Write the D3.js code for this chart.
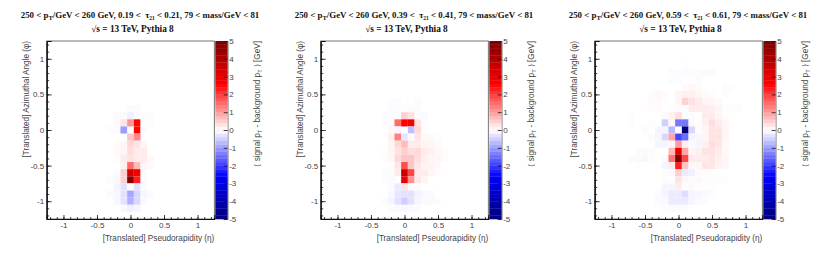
<!DOCTYPE html>
<html>
<head>
<meta charset="utf-8">
<style>
  html, body { margin: 0; padding: 0; background: #fff; }
  svg { display: block; }
  .tick text { font-family: "Liberation Sans", sans-serif; font-size: 8px; fill: #444; }
  .axis-title { font-family: "Liberation Sans", sans-serif; font-size: 8.2px; fill: #444; }
  .plot-title { font-family: "Liberation Serif", serif; font-size: 8.9px; font-weight: bold; fill: #111; }
</style>
<script src="https://cdn.jsdelivr.net/npm/d3@7"></script>
</head>
<body>
<div id="chart"></div>
<script>
// bin centres of the part of the grid which has any content
var etaBins = [-0.7, -0.6, -0.5, -0.4, -0.3, -0.2, -0.1, 0, 0.1, 0.2, 0.3, 0.4, 0.5, 0.6, 0.7, 0.8, 0.9];
var phiBins = [0.9, 0.8, 0.7, 0.6, 0.5, 0.4, 0.3, 0.2, 0.1, 0, -0.1, -0.2, -0.3, -0.4, -0.5, -0.6, -0.7, -0.8, -0.9, -1.0, -1.1, -1.2];

var tauLow = ["0.19", "0.39", "0.59"];
var tauHigh = ["0.21", "0.41", "0.61"];

var majorTicks = [-1, -0.5, 0, 0.5, 1];
var colorTicks = [-5, -4, -3, -2, -1, 0, 1, 2, 3, 4, 5];

// cols: etaBins, rows: phiBins
var values1 = [
    [0, 0, 0, 0, 0, 0, 0, 0, 0, 0, 0, 0, 0, 0, 0, 0, 0],
    [0, 0, 0, 0, 0, 0, 0, 0, 0, 0, 0, 0, 0, 0, 0, 0, 0],
    [0, 0, 0, 0, 0, 0, 0, 0, 0, 0, 0, 0, 0, 0, 0, 0, 0],
    [0, 0, 0, 0, 0, 0, 0, 0, 0, 0, 0, 0, 0, 0, 0, 0, 0],
    [0, 0, 0, 0, 0, 0, 0, 0, 0, 0, 0, 0, 0, 0, 0, 0, 0],
    [0, 0, 0, 0, 0, 0, 0, 0, 0, 0, 0, 0, 0, 0, 0, 0, 0],
    [0, 0, 0, 0, 0, 0, 0, -0.05, -0.05, 0, 0, 0, 0, 0, 0, 0, 0],
    [0, 0, 0, 0, 0, -0.05, -0.05, -0.15, -0.05, -0.03, -0.03, 0, 0, 0, 0, 0, 0],
    [0, 0, 0, 0, 0, -0.05, 0.3, 1.1, 2.6, -0.03, -0.03, 0, 0, 0, 0, 0, 0],
    [0, 0, 0, 0, -0.03, -0.05, -1, 0, 2.6, -0.05, 0, 0, 0, 0, 0, 0, 0],
    [0, 0, 0, 0, 0, 0, 0, 0.6, 1.2, 0, 0, 0, 0, 0, 0, 0, 0],
    [0, 0, 0, 0, 0, 0.05, 0.1, 0.4, 0.3, 0.1, 0, 0, 0, 0, 0, 0, 0],
    [0, 0, 0, 0, 0, 0.05, 0.1, 0.35, 0.2, 0.2, 0, 0, 0, 0, 0, 0, 0],
    [0, 0, 0, 0, 0, 0.03, 0.2, 0.3, 0.2, 0.2, 0.08, 0, 0, 0, 0, 0, 0],
    [0, 0, 0, 0, 0, 0, 0.15, 1.5, 0.7, 0.12, 0.05, 0, 0, 0, 0, 0, 0],
    [0, 0, 0, 0, 0, -0.05, 0.5, 3.4, 2.8, 0.05, 0, 0, 0, 0, 0, 0, 0],
    [0, 0, 0, 0, -0.03, -0.08, 0.5, 4.7, 2.3, -0.05, 0, 0, 0, 0, 0, 0, 0],
    [0, 0, 0, 0, 0, -0.1, -0.3, 0.02, -0.3, -0.05, 0, 0, 0, 0, 0, 0, 0],
    [0, 0, 0, 0, -0.05, -0.08, -0.3, -0.9, -0.4, -0.08, -0.05, 0, 0, 0, 0, 0, 0],
    [0, 0, 0, 0, 0, -0.08, -0.3, -0.8, -0.4, -0.06, 0, 0, 0, 0, 0, 0, 0],
    [0, 0, 0, 0, 0, 0, -0.06, -0.15, -0.1, 0, 0, 0, 0, 0, 0, 0, 0],
    [0, 0, 0, 0, 0, 0, 0, 0, 0, 0, 0, 0, 0, 0, 0, 0, 0]
];

var values2 = [
    [0, 0, 0, 0, 0, 0, 0, 0, 0, 0, 0, 0, 0, 0, 0, 0, 0],
    [0, 0, 0, 0, 0, 0, 0, 0, 0, 0, 0, 0, 0, 0, 0, 0, 0],
    [0, 0, 0, 0, 0, 0, 0, 0, 0, 0, 0, 0, 0, 0, 0, 0, 0],
    [0, 0, 0, 0, 0, 0, 0, 0, 0, 0, 0, 0, 0, 0, 0, 0, 0],
    [0, 0, 0, 0, 0, 0, 0, 0, 0, 0, 0, 0, 0, 0, 0, 0, 0],
    [0, 0, 0, 0, 0, -0.03, -0.03, 0, 0, -0.03, 0, 0, 0, 0, 0, 0, 0],
    [0, 0, 0, 0, 0, -0.05, -0.05, -0.02, -0.04, -0.05, 0, 0, 0, 0, 0, 0, 0],
    [0, 0, 0, 0, -0.03, -0.04, -0.02, 0.5, 0.3, -0.03, -0.06, 0, 0, 0, 0, 0, 0],
    [0, 0, 0, 0, -0.03, -0.03, 1.5, 2.6, 2.8, 0.3, -0.03, 0, 0, 0, 0, 0, 0],
    [0, 0, 0, 0, 0, 0.08, -0.1, 0, -0.65, 0.4, 0.03, 0, 0, 0, 0, 0, 0],
    [0, 0, 0, 0, 0, 0.15, 1.3, -0.25, -0.03, 0.3, 0.05, 0.05, 0.03, 0, 0, 0, 0],
    [0, 0, 0, 0, 0, 0.1, 0.4, 0.7, 0.2, 0.2, 0.12, 0.1, 0.05, 0, 0, 0, 0],
    [0, 0, 0, 0, 0.03, 0.1, 0.3, 0.5, 0.35, 0.4, 0.2, 0.15, 0.08, 0.03, 0, 0, 0],
    [0, 0, 0, 0, 0.03, 0.08, 0.4, 0.6, 0.6, 0.35, 0.15, 0.1, 0.08, 0.04, 0, 0, 0],
    [0, 0, 0, 0, 0, 0.03, 0.25, 1.8, 0.6, 0.25, 0.12, 0.12, 0.06, 0, 0, 0, 0],
    [0, 0, 0, 0, -0.03, -0.03, 0.2, 3.7, 1.9, 0.2, 0.2, 0.1, 0.02, 0, 0, 0, 0],
    [0, 0, 0, 0, -0.03, -0.05, 0.02, 3, 1.1, 0.25, 0.12, 0, 0, 0, 0, 0, 0],
    [0, 0, 0, 0, 0, -0.05, -0.2, 0.3, -0.03, -0.03, 0, 0, 0, 0, 0, 0, 0],
    [0, 0, 0, 0, 0, -0.08, -0.25, -0.3, -0.3, -0.12, -0.06, -0.05, 0, 0, 0, 0, 0],
    [0, 0, 0, 0, -0.03, -0.1, -0.3, -0.5, -0.3, -0.1, -0.06, -0.06, -0.03, 0, 0, 0, 0],
    [0, 0, 0, 0, 0, -0.03, -0.06, -0.08, -0.06, -0.03, 0, 0, 0, 0, 0, 0, 0],
    [0, 0, 0, 0, 0, 0, 0, 0, 0, 0, 0, 0, 0, 0, 0, 0, 0]
];

var values3 = [
    [0, 0, 0, 0, 0, 0, 0, 0, -0.02, 0, 0, 0, 0, 0, 0, 0, 0],
    [0, 0, 0, 0, 0, 0, -0.03, -0.03, -0.03, -0.03, -0.03, -0.04, -0.05, 0, 0, 0, 0],
    [0, 0, 0, 0, 0, 0, -0.03, -0.03, 0, 0, -0.03, 0, 0, 0, 0, 0, 0],
    [0, 0, 0, 0, 0, 0, 0, 0, 0.05, 0.08, 0.05, 0, 0, 0, -0.03, -0.03, 0],
    [0, 0, 0, 0.03, 0.08, 0.05, 0, 0.12, 0.15, 0.15, 0.1, 0.05, 0.03, 0, -0.03, 0, 0],
    [0, 0, 0, 0.05, 0.06, 0.03, 0, 0.1, 0.45, 0.3, 0.2, 0.1, 0.1, 0.05, 0, 0, 0],
    [0, 0, 0.02, 0.03, 0.03, 0, -0.03, -0.05, -0.03, 0.2, 0.2, 0.2, 0.15, 0.1, 0.03, -0.02, -0.03],
    [-0.03, 0, 0, 0, 0, -0.05, 0.15, 0.35, -0.03, -0.03, 0, 0.2, 0.2, 0.1, 0.03, 0, 0],
    [-0.03, 0, 0, -0.02, 0, -0.5, 0.1, -1.4, -1.4, -0.05, 0.03, 0.15, 0.35, 0.2, 0.1, 0, 0],
    [0, 0, -0.03, 0, -0.1, -0.1, -0.7, 0, -5, -0.4, -0.03, 0.1, 0.3, 0.25, 0.08, 0, 0],
    [0, 0, 0, -0.04, -0.1, -0.4, 0.9, -1.9, -1.5, -0.1, -0.08, 0.1, 0.3, 0.3, 0.1, 0, 0],
    [0, 0, 0, 0, -0.1, -0.1, 0.1, 1, 0.15, -0.05, -0.1, 0.15, 0.35, 0.25, 0.05, 0, 0],
    [0, -0.03, -0.05, -0.03, 0.01, 0, 0.7, 3, 0.9, 0.1, 0.15, 0.3, 0.3, 0.2, 0.05, 0, 0],
    [0.05, 0.05, 0.08, 0.03, 0, -0.03, 1.4, 4.9, 1.9, 0.2, 0.2, 0.2, 0.25, 0.15, 0.08, 0, 0],
    [0, 0.03, 0, 0, 0.01, -0.1, 0.2, 2.3, 0.6, 0.08, 0.08, 0.25, 0.25, 0.12, 0.08, 0, 0],
    [0, 0, 0, 0, 0, -0.03, -0.05, 0.5, -0.2, -0.15, 0.05, 0.04, 0.03, 0, 0, 0, 0],
    [0, 0, 0, 0, 0, -0.03, -0.01, 0.3, 0.08, 0.05, 0.05, 0.03, 0.03, -0.02, -0.02, 0, 0],
    [0, 0, 0, 0, 0, -0.1, -0.1, 0.2, -0.02, 0.06, 0.02, 0.02, 0.02, 0, 0, 0, 0],
    [0, 0, 0, 0, -0.05, -0.1, -0.2, -0.2, -0.35, -0.1, -0.08, -0.06, -0.03, 0, 0, 0, 0],
    [0, 0, 0, 0, -0.05, -0.06, -0.2, -0.2, -0.2, -0.1, -0.06, -0.03, 0, 0, 0, 0, 0],
    [0, 0, 0, 0, 0, -0.03, -0.04, -0.04, -0.03, 0, 0, 0, 0, 0, 0, 0, 0],
    [0, 0, 0, 0, 0, 0, 0, 0, 0, 0, 0, 0, 0, 0, 0, 0, 0]
];

var panelValues = [values1, values2, values3];

var svg = d3.select("#chart").append("svg")
    .attr("width", 822)
    .attr("height", 260);

var panelWidth = 274;
var plotLeft = 46.7, plotWidth = 167.6, plotTop = 41, plotHeight = 178;
var barWidth = 12.4;
var binSize = 0.1;

var x = d3.scaleLinear().domain([-1.25, 1.25]).range([0, plotWidth]);
var y = d3.scaleLinear().domain([-1.25, 1.25]).range([plotHeight, 0]);
var z = d3.scaleLinear().domain([-5, 5]).range([plotHeight, 0]);

var color = d3.scaleLinear()
    .domain([-5, -2.6, 0, 2.6, 5])
    .range(["#00007a", "#0000ff", "#ffffff", "#ff0000", "#7a0000"])
    .clamp(true);

var minorTicks = d3.range(-12, 13).map(function (i) { return i / 10; });

// plain hyphen minus like the original labels
function plainNumber(d) {
    return String(d);
}

function drawTitle(g, i) {
    var title = g.append("text")
        .attr("class", "plot-title")
        .attr("x", 140)
        .attr("y", 18)
        .attr("text-anchor", "middle")
        .attr("xml:space", "preserve");
    title.append("tspan").text("250 < p");
    title.append("tspan").attr("dy", 1.8).attr("font-size", 6.5).text("T");
    title.append("tspan").attr("dy", -1.8).text("/GeV < 260 GeV, " + tauLow[i] + " <  \u03c4");
    title.append("tspan").attr("dy", 1.8).attr("font-size", 5.5).text("21");
    title.append("tspan").attr("dy", -1.8).text(" < " + tauHigh[i] + ", 79 < mass/GeV < 81");

    g.append("text")
        .attr("class", "plot-title")
        .attr("x", 132.5)
        .attr("y", 32)
        .attr("text-anchor", "middle")
        .style("font-size", "9.3px")
        .text("\u221as = 13 TeV, Pythia 8");
}

function drawPanel(values, i) {
    var g = svg.append("g").attr("transform", "translate(" + (i * panelWidth) + ",0)");
    drawTitle(g, i);

    var plot = g.append("g").attr("transform", "translate(" + plotLeft + "," + plotTop + ")");

    // flatten the grid, white bins draw nothing anyway
    var cells = [];
    values.forEach(function (row, r) {
        row.forEach(function (v, c) {
            if (v !== 0) {
                cells.push({ eta: etaBins[c], phi: phiBins[r], value: v });
            }
        });
    });

    plot.selectAll("rect.cell")
        .data(cells)
        .enter().append("rect")
        .attr("class", "cell")
        .attr("x", function (d) { return x(d.eta - binSize / 2); })
        .attr("y", function (d) { return y(d.phi + binSize / 2); })
        .attr("width", x(binSize) - x(0))
        .attr("height", y(0) - y(binSize))
        .attr("fill", function (d) { return color(d.value); });

    // frame
    plot.append("rect")
        .attr("width", plotWidth)
        .attr("height", plotHeight)
        .attr("fill", "none")
        .attr("stroke", "#555")
        .attr("stroke-width", 0.8);

    // ROOT style inward ticks
    var xMinorAxis = d3.axisBottom(x).tickValues(minorTicks).tickSize(-2).tickFormat("");
    var xMajorAxis = d3.axisBottom(x).tickValues(majorTicks).tickSize(-4).tickPadding(3.5)
        .tickFormat(plainNumber);
    var yMinorAxis = d3.axisLeft(y).tickValues(minorTicks).tickSize(-2.5).tickFormat("");
    var yMajorAxis = d3.axisLeft(y).tickValues(majorTicks).tickSize(-5).tickPadding(2.5)
        .tickFormat(plainNumber);

    [[xMinorAxis, 1], [xMajorAxis, 1], [yMinorAxis, 0], [yMajorAxis, 0]].forEach(function (a) {
        var ag = plot.append("g");
        if (a[1]) {
            ag.attr("transform", "translate(0," + plotHeight + ")");
        }
        ag.call(a[0]);
        ag.select(".domain").attr("stroke", "#111").attr("stroke-width", 1);
        ag.selectAll("line").attr("stroke", "#111").attr("stroke-width", 0.8);
    });

    // colour bar
    var bar = plot.append("g").attr("transform", "translate(" + (plotWidth + 1) + ",0)");
    var bands = d3.range(-5, 5, 0.2);
    bar.selectAll("rect")
        .data(bands)
        .enter().append("rect")
        .attr("x", 0)
        .attr("y", function (d) { return z(d + 0.2); })
        .attr("width", barWidth)
        .attr("height", z(0) - z(0.2) + 0.3)
        .attr("fill", function (d) { return color(d + 0.1); });

    var barAxis = d3.axisRight(z).tickValues(colorTicks).tickSize(-4).tickPadding(1.5)
        .tickFormat(plainNumber);
    var barAxisG = bar.append("g").attr("transform", "translate(" + barWidth + ",0)").call(barAxis);
    barAxisG.select(".domain").attr("stroke", "#555").attr("stroke-width", 0.6);
    barAxisG.selectAll("line").attr("stroke", "#111").attr("stroke-width", 0.8);

    // axis titles, right aligned like ROOT does
    plot.append("text")
        .attr("class", "axis-title")
        .attr("x", plotWidth)
        .attr("y", 21.5)
        .attr("transform", "translate(0," + plotHeight + ")")
        .attr("text-anchor", "end")
        .text("[Translated] Pseudorapidity (\u03b7)");

    plot.append("text")
        .attr("class", "axis-title")
        .attr("transform", "translate(-17.3,0) rotate(-90)")
        .attr("text-anchor", "end")
        .text("[Translated] Azimuthal Angle (\u03c6)");

    var barTitle = plot.append("text")
        .attr("class", "axis-title")
        .attr("transform", "translate(" + (plotWidth + 45.5) + ",0) rotate(-90)")
        .attr("text-anchor", "end")
        .attr("xml:space", "preserve");
    barTitle.append("tspan").text("\u27e8 signal p");
    barTitle.append("tspan").attr("dy", 1.8).attr("font-size", 5.5).text("T");
    barTitle.append("tspan").attr("dy", -1.8).text(" - background p");
    barTitle.append("tspan").attr("dy", 1.8).attr("font-size", 5.5).text("T");
    barTitle.append("tspan").attr("dy", -1.8).text(" \u27e9 [GeV]");
}

panelValues.forEach(drawPanel);
</script>
</body>
</html>
